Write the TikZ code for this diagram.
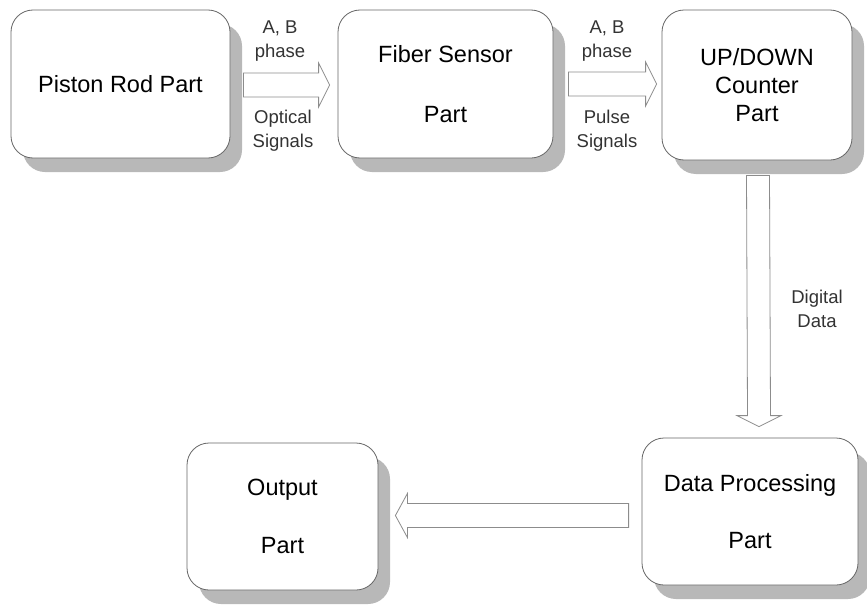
\documentclass[tikz,border=0pt]{standalone}
\usepackage{fontspec}
\setmainfont{Liberation Sans}
\usetikzlibrary{calc,shadows}
\newcommand\bigfont{\fontsize{23.5}{28}\selectfont}
\newcommand\smallfont{\fontsize{18.5}{24}\selectfont}
\tikzset{
  box/.style={draw=black!60, line width=0.8pt, fill=white, rounded corners=22pt,
    align=center, font=\bigfont, inner sep=0pt,
    drop shadow={shadow xshift=12pt, shadow yshift=-14pt, fill=black!28, opacity=1}},
  lbl/.style={align=center, font=\smallfont, text=black!80, inner sep=0pt},
  barrow/.style={draw=black!45, line width=0.8pt, fill=white}
}
\newcommand\arrR[2]{\draw[barrow] ($(#1)+(0,-12)$) -- ($(#2)+(-11,-12)$) -- ($(#2)+(-11,-22)$) -- (#2) -- ($(#2)+(-11,22)$) -- ($(#2)+(-11,12)$) -- ($(#1)+(0,12)$) -- cycle;}
\newcommand\arrL[2]{\draw[barrow] ($(#1)+(0,-12)$) -- ($(#2)+(12,-12)$) -- ($(#2)+(12,-22)$) -- (#2) -- ($(#2)+(12,22)$) -- ($(#2)+(12,12)$) -- ($(#1)+(0,12)$) -- cycle;}
\newcommand\arrD[2]{\draw[barrow] ($(#1)+(-11.5,0)$) -- ($(#2)+(-11.5,-11)$) -- ($(#2)+(-22,-11)$) -- (#2) -- ($(#2)+(22,-11)$) -- ($(#2)+(11.5,-11)$) -- ($(#1)+(11.5,0)$) -- cycle;}
\begin{document}
\begin{tikzpicture}[x=1pt,y=-1pt]
\useasboundingbox[fill=white] (0,0) rectangle (867,605);
% boxes
\node[box, minimum width=219pt, minimum height=148pt] (pr) at (120.5,84) {Piston Rod Part};
\node[box, minimum width=215pt, minimum height=148pt] (fs) at (445.5,84) {Fiber Sensor\\[32pt]Part};
\node[box, minimum width=190pt, minimum height=150pt] (ud) at (757,85) {UP/DOWN\\Counter\\Part};
\node[box, minimum width=216pt, minimum height=147pt] (dp) at (750,511.5) {Data Processing\\[29pt]Part};
\node[box, minimum width=191pt, minimum height=147pt] (op) at (282.5,516.5) {Output\\[30pt]Part};
% arrows
\coordinate (a1s) at ($(pr.east)+(13,1)$);
\coordinate (a1t) at ($(fs.west)+(-8,1)$);
\arrR{a1s}{a1t}
\coordinate (a2s) at ($(fs.east)+(15,0)$);
\coordinate (a2t) at ($(ud.west)+(-5,-1)$);
\arrR{a2s}{a2t}
\coordinate (a3s) at ($(ud.south)+(1,15)$);
\coordinate (a3t) at ($(dp.north)+(9,-11)$);
\arrD{a3s}{a3t}
\coordinate (a4s) at ($(dp.west)+(-13,4)$);
\coordinate (a4t) at ($(op.east)+(17,-1)$);
\arrL{a4s}{a4t}
% labels
\node[lbl] (l1a) at (280,41.5) {A, B\\phase};
\node[lbl] (l1b) at (283,130.5) {Optical\\Signals};
\node[lbl] (l2a) at (607,41.5) {A, B\\phase};
\node[lbl] (l2b) at (607,130.5) {Pulse\\Signals};
\node[lbl] (l3) at (817,308.5) {Digital\\Data};
\end{tikzpicture}
\end{document}
